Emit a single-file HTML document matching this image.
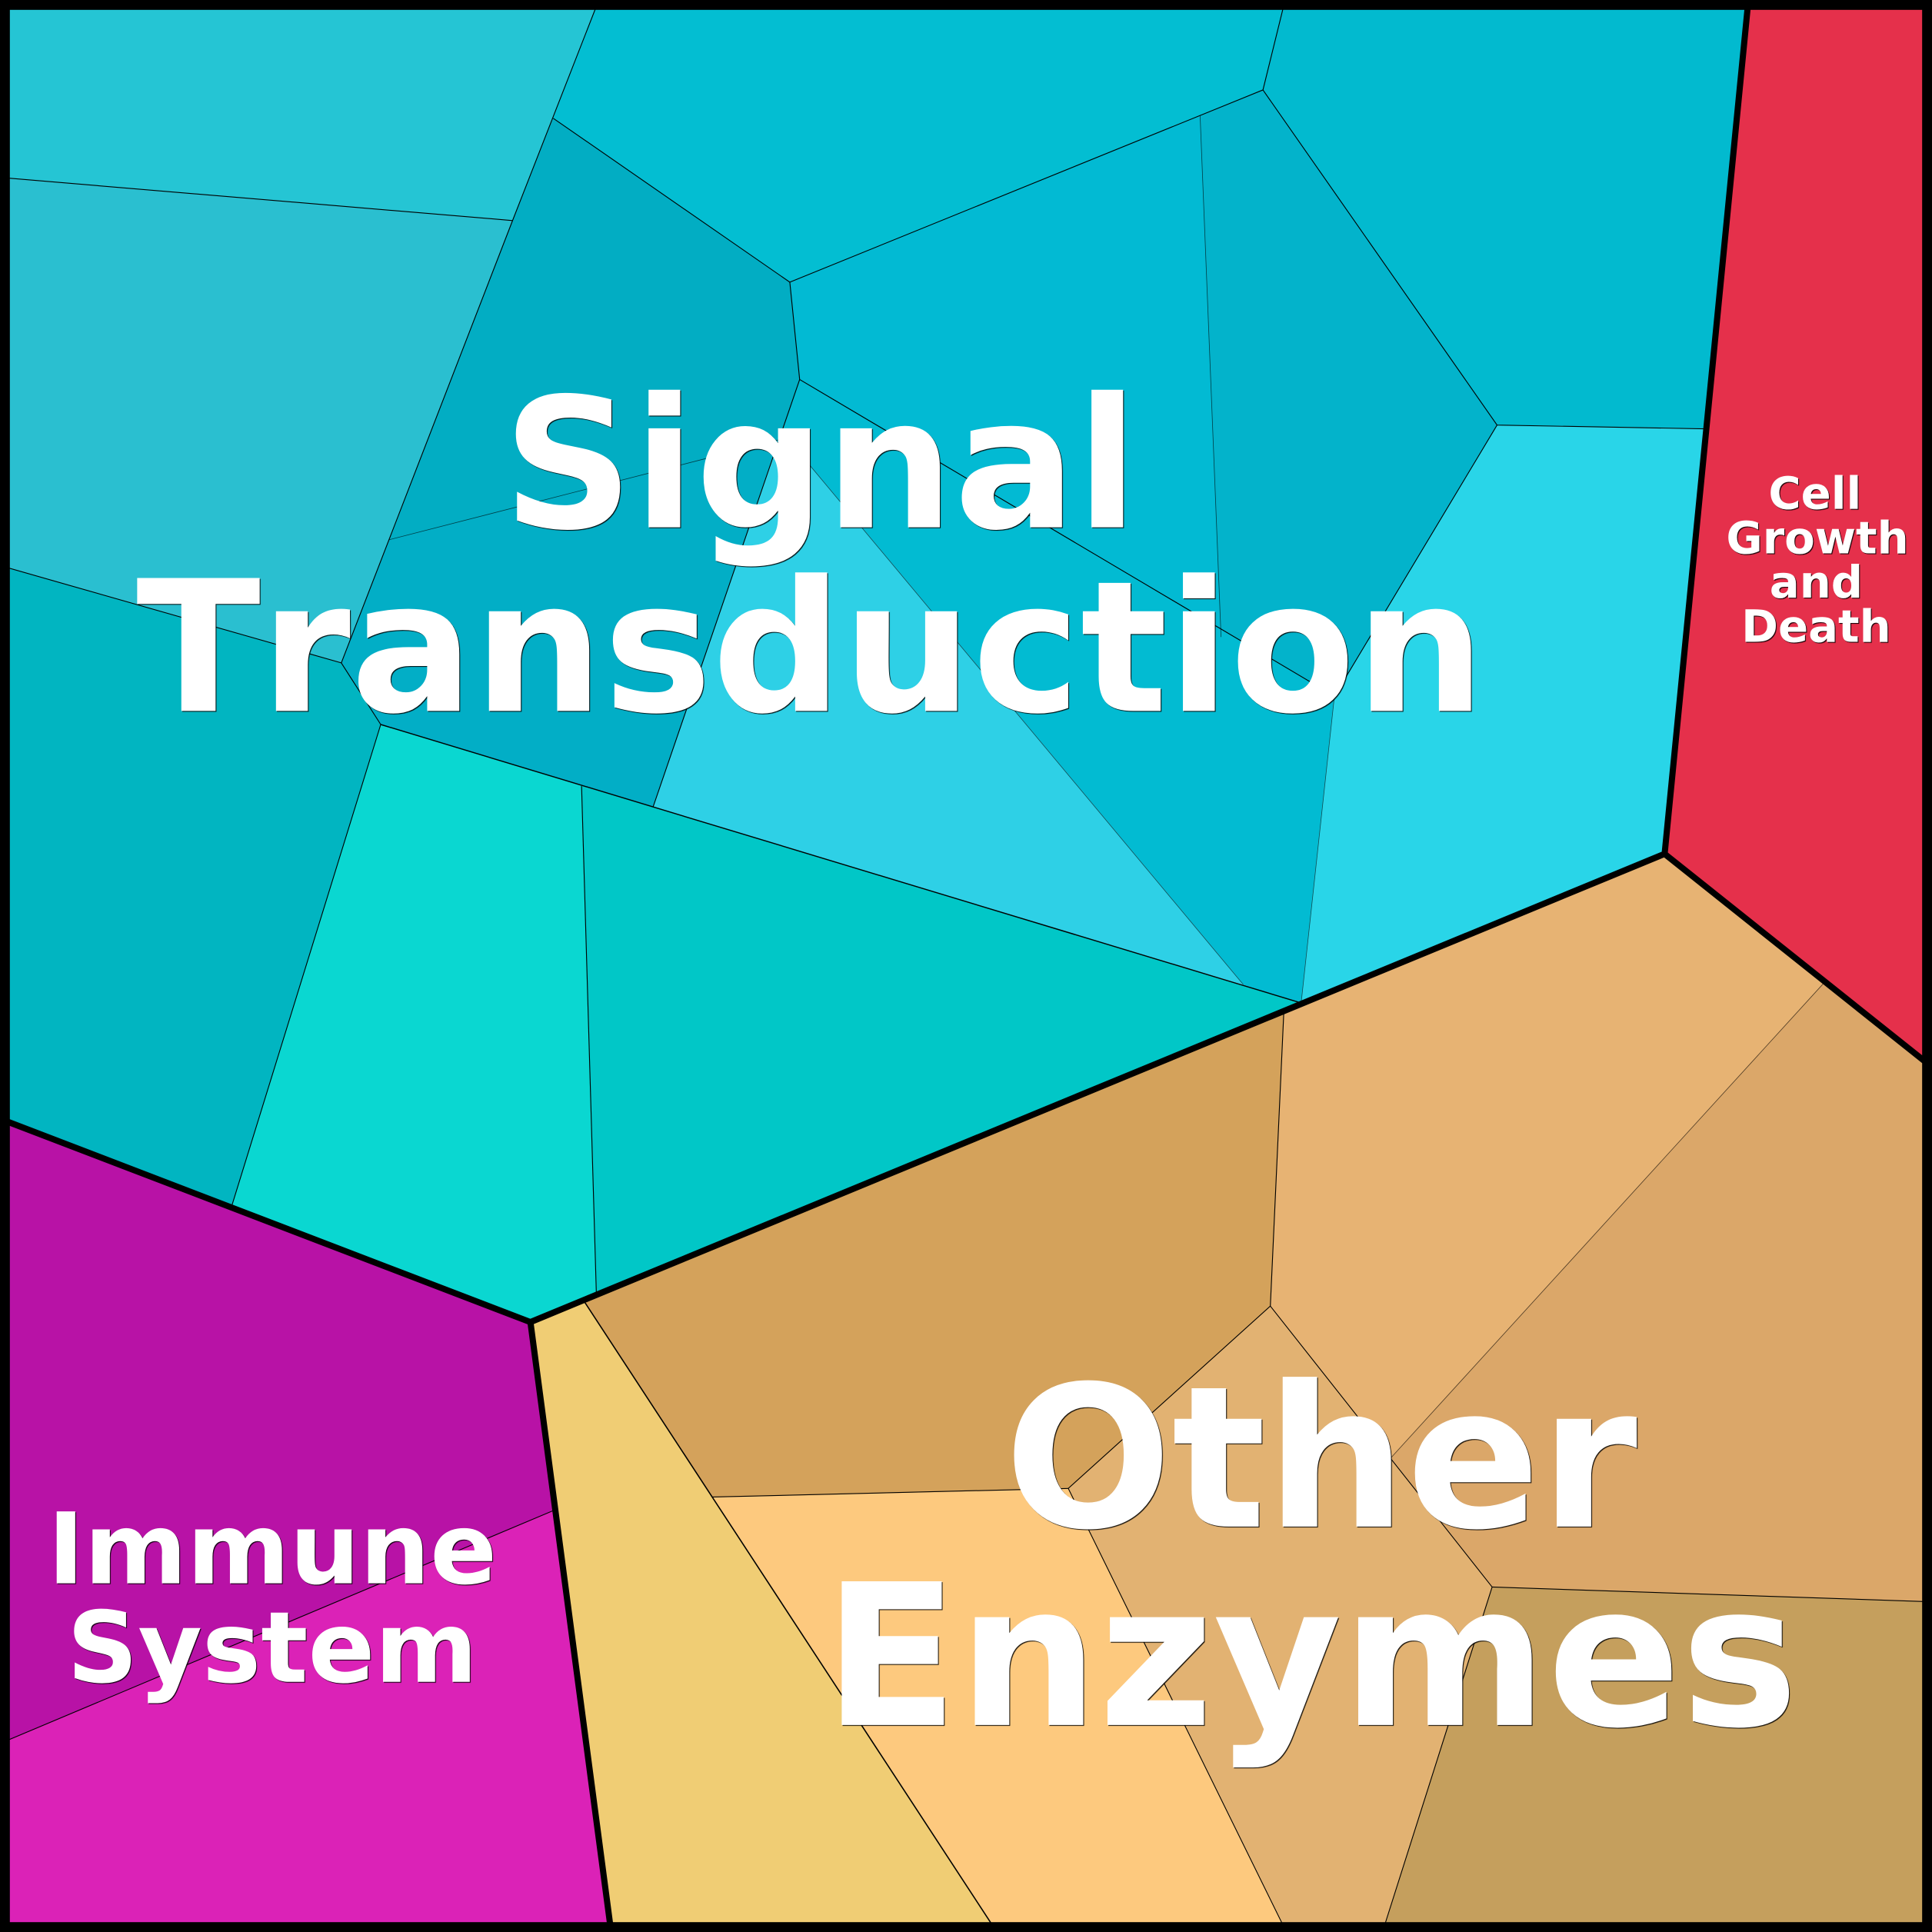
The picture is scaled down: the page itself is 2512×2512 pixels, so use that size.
<!DOCTYPE html>
<html>
<head>
<meta charset="utf-8">
<style>
html,body{margin:0;padding:0;background:#fff}
svg{display:block}
text{font-family:"DejaVu Sans","Liberation Sans",sans-serif;font-weight:700;fill:#fff;text-anchor:middle;font-kerning:none}
.c polygon{stroke-width:.6;stroke-linejoin:round}
</style>
</head>
<body>
<svg width="2512" height="2512" viewBox="0 0 1568 1568" xmlns="http://www.w3.org/2000/svg">
<defs>
<filter id="s" x="-5%" y="-5%" width="110%" height="110%" color-interpolation-filters="sRGB">
<feDropShadow dx=".7" dy=".7" stdDeviation="0" flood-color="#000" flood-opacity=".85"/>
</filter>
</defs>
<g class="c">
<polygon fill="#25C5D4" stroke="#25C5D4" points="0,0 486,0 416,179 0,144"/>
<polygon fill="#2ABFD0" stroke="#2ABFD0" points="0,144 416,179 277,538 0,459"/>
<polygon fill="#01B5C1" stroke="#01B5C1" points="0,459 277,538 309,588 188,979 0,908"/>
<polygon fill="#0AD7D1" stroke="#0AD7D1" points="309,588 472,638 484,1050 431,1073 188,979"/>
<polygon fill="#01C7C7" stroke="#01C7C7" points="472,638 1056,814 484,1050"/>
<polygon fill="#02ADC3" stroke="#02ADC3" points="449,96 641,229 649,308 632,357 316,438 416,179"/>
<polygon fill="#02AEC6" stroke="#02AEC6" points="316,438 632,357 530,655 309,588 277,538" />
<polygon fill="#03BED2" stroke="#03BED2" points="486,0 1043,0 1025,73 641,229 449,96"/>
<polygon fill="#02BACF" stroke="#02BACF" points="1043,0 1419,0 1383,348 1215,345 1025,73"/>
<polygon fill="#02BAD3" stroke="#02BAD3" points="641,229 974,94 991,517 649,308"/>
<polygon fill="#03B3CB" stroke="#03B3CB" points="974,94 1025,73 1215,345 1083,565 991,517"/>
<polygon fill="#02BBD2" stroke="#02BBD2" points="649,308 1083,565 1056,814 1009,799 635,351"/>
<polygon fill="#2ED0E6" stroke="#2ED0E6" points="635,351 1009,799 530,655"/>
<polygon fill="#29D5E8" stroke="#29D5E8" points="1215,345 1383,348 1351,693 1056,814 1083,565"/>
<polygon fill="#E5304B" stroke="#E5304B" points="1419,0 1568,0 1568,866 1351,693"/>
<polygon fill="#E7B373" stroke="#E7B373" points="1351,693 1481,797 1129,1183 1031,1060 1042,820"/>
<polygon fill="#DBA769" stroke="#DBA769" points="1481,797 1568,866 1568,1300 1211,1288 1129,1183"/>
<polygon fill="#C59F5D" stroke="#C59F5D" points="1211,1288 1568,1300 1568,1568 1122,1568"/>
<polygon fill="#E2B272" stroke="#E2B272" points="1031,1060 1211,1288 1122,1568 1044,1568 867,1208"/>
<polygon fill="#FDC97E" stroke="#FDC97E" points="578,1215 867,1208 1044,1568 809,1568"/>
<polygon fill="#F0CD74" stroke="#F0CD74" points="431,1073 474,1056 578,1215 809,1568 496,1568"/>
<polygon fill="#D4A25B" stroke="#D4A25B" points="474,1056 1042,820 1031,1060 867,1208 578,1215"/>
<polygon fill="#B812A6" stroke="#B812A6" points="0,908 431,1073 449,1226 0,1415"/>
<polygon fill="#DB22B7" stroke="#DB22B7" points="0,1415 449,1226 496,1568 0,1568"/>
</g>
<g fill="none" stroke="#000" stroke-width=".7" stroke-linejoin="round">
<polyline points="0,144 416,179"/>
<polyline points="486,0 416,179 277,538 309,588 188,979"/>
<polyline points="0,459 277,538"/>
<polyline points="449,96 641,229 649,308 530,655"/>
<polyline points="641,229 1025,73 1043,0"/>
<polyline points="1025,73 1215,345 1383,348"/>
<polyline points="649,308 1083,565"/>
<polyline points="1215,345 1083,565"/>
<polyline points="472,638 484,1050"/>
<polyline points="1042,820 1031,1060 1211,1288 1122,1568"/>
<polyline points="1211,1288 1568,1300"/>
<polyline points="1031,1060 867,1208 1044,1568"/>
<polyline points="578,1215 867,1208"/>
<polyline points="0,1415 449,1226"/>
</g>
<polyline points="309,588 1056,814" fill="none" stroke="#000" stroke-width=".9"/>
<polyline points="474,1056 809,1568" fill="none" stroke="#000" stroke-width="1"/>
<g fill="none" stroke="#000" stroke-width=".5" stroke-opacity=".65">
<polyline points="316,438 632,357"/>
<polyline points="635,351 1009,799"/>
<polyline points="974,94 991,517"/>
<polyline points="1083,565 1056,814"/>
<polyline points="1481,797 1129,1183"/>
</g>
<g fill="none" stroke="#000" stroke-width="5" stroke-linejoin="miter">
<polyline points="0,908 430.5,1073 496,1568"/>
<polyline points="430.5,1073 1351,693 1419,0"/>
<polyline points="1351,693 1568,866"/>
</g>
<rect x="0" y="0" width="1568" height="1568" fill="none" stroke="#000" stroke-width="16"/>
<g filter="url(#s)">
<text x="666" y="428" font-size="147">Signal</text>
<text x="658" y="577" font-size="148">Transduction</text>
<text x="1072" y="1239" font-size="160">Other</text>
<text x="1064" y="1400" font-size="160">Enzymes</text>
<text x="221" y="1285" font-size="80">Immune</text>
<text x="221" y="1365" font-size="80">System</text>
<text x="1473" y="413" font-size="36">Cell</text>
<text x="1475" y="449" font-size="36">Growth</text>
<text x="1474" y="485" font-size="36">and</text>
<text x="1474" y="521" font-size="36">Death</text>
</g>
</svg>
</body>
</html>
